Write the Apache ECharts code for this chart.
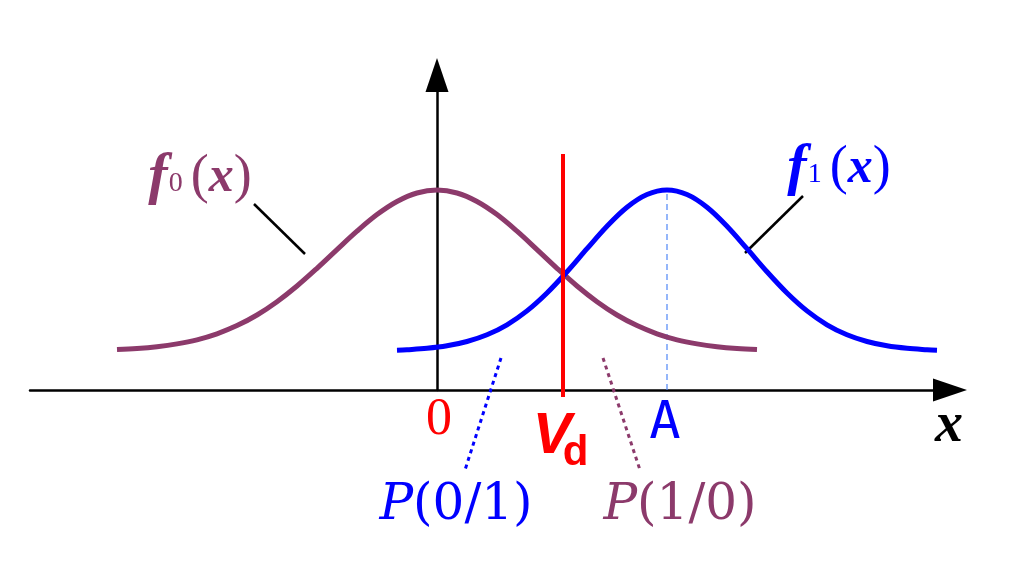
<!DOCTYPE html>
<html>
<head>
<meta charset="utf-8">
<script src="https://cdn.jsdelivr.net/npm/echarts@6/dist/echarts.min.js"></script>
<style>
html,body{margin:0;padding:0;background:#fff;}
#chart{width:1034px;height:570px;}
</style>
</head>
<body>
<div id="chart"></div>
<script>
// ---- data (x in units, y in density units) ----
const f0X = [-3.2,-3.0,-2.8,-2.6,-2.4,-2.2,-2.0,-1.8,-1.6,-1.4,-1.2,-1.0,-0.8,-0.6,-0.4,-0.2,0,0.2,0.4,0.6,0.8,1.0,1.2,1.4,1.6,1.8,2.0,2.2,2.4,2.6,2.8,3.0,3.2];
const f0Y = [0.404,0.415,0.433,0.461,0.502,0.562,0.644,0.750,0.883,1.040,1.217,1.404,1.588,1.754,1.885,1.970,2.000,1.970,1.885,1.754,1.588,1.404,1.217,1.040,0.883,0.750,0.644,0.562,0.502,0.461,0.433,0.415,0.404];
const f1X = [-0.4,-0.3,-0.1,0.1,0.3,0.5,0.7,0.9,1.1,1.3,1.5,1.7,1.9,2.1,2.3,2.5,2.7,2.9,3.1,3.3,3.5,3.7,3.9,4.1,4.3,4.5,4.7,4.9,5.0];
const f1Y = [0.398,0.403,0.417,0.442,0.485,0.552,0.652,0.791,0.970,1.182,1.413,1.638,1.828,1.955,2.000,1.955,1.828,1.638,1.413,1.182,0.970,0.791,0.652,0.552,0.485,0.442,0.417,0.403,0.398];
const threshold = 1.26;   // V_d
const meanA = 2.3;        // A
const peak = 2.0;
const tickLabels = ['0', 'A'];

const PURPLE = '#8C3A6B';
const BLUE = '#0000FF';
const RED = '#FF0000';

const zip = (xs, ys) => xs.map((x, i) => [x, ys[i]]);

function lineSeg(p, q, color, width, type, z) {
  return {
    type: 'line', data: [p, q], symbol: 'none', clip: false, silent: true, z: z || 2,
    lineStyle: { color: color, width: width, type: type || 'solid', opacity: 1 }
  };
}
function textAt(pt, formatter, rich, z) {
  return {
    type: 'scatter', data: [pt], symbolSize: 0, clip: false, silent: true, z: z || 5,
    itemStyle: { opacity: 1 },
    label: { show: true, position: 'inside', formatter: formatter, rich: rich, opacity: 1 }
  };
}

const serif = 'Liberation Serif';
function fLabel(color) {
  return {
    f: { fontFamily: serif, fontStyle: 'italic', fontWeight: 'bold', fontSize: 58, color: color },
    s: { fontFamily: serif, fontSize: 28, color: color, padding: [12, 8, 0, 1] },
    p: { fontFamily: serif, fontSize: 54, color: color },
    x: { fontFamily: serif, fontStyle: 'italic', fontWeight: 'bold', fontSize: 50, color: color }
  };
}
const option = {
  animation: false,
  backgroundColor: '#fff',
  grid: { left: 30, right: 84, top: 75, bottom: 180 },
  xAxis: {
    type: 'value', min: -4.07, max: 5.13,
    axisLine: { onZero: true, lineStyle: { color: '#000', width: 2.5 }, symbol: ['none', 'triangle'], symbolSize: [23, 34] },
    axisTick: { show: false }, axisLabel: { show: false }, splitLine: { show: false }
  },
  yAxis: {
    type: 'value', min: 0, max: 3.15,
    axisLine: { show: true, onZero: true, lineStyle: { color: '#000', width: 2.5 }, symbol: ['none', 'triangle'], symbolSize: [23, 34] },
    axisTick: { show: false }, axisLabel: { show: false }, splitLine: { show: false }
  },
  series: [
    lineSeg([meanA, 0], [meanA, peak], '#4F86F7', 1.2, [6, 4], 1),
    { type: 'line', data: zip(f0X, f0Y), smooth: 0.35, symbol: 'none', clip: false, z: 2,
      lineStyle: { color: PURPLE, width: 5 } },
    { type: 'line', data: zip(f1X, f1Y), smooth: 0.35, symbol: 'none', clip: false, z: 3,
      lineStyle: { color: BLUE, width: 5 } },
    lineSeg([threshold, -0.07], [threshold, 2.36], RED, 4, 'solid', 4),
    // leader lines
    lineSeg([-1.83, 1.86], [-1.32, 1.36], '#000', 2.5),
    lineSeg([3.66, 1.94], [3.08, 1.37], '#000', 2.5),
    // dotted pointers
    lineSeg([0.64, 0.32], [0.28, -0.80], BLUE, 3, [4, 4]),
    lineSeg([1.66, 0.32], [2.03, -0.80], PURPLE, 3, [4, 4]),
    // texts
    textAt([-2.37, 2.12], '{f|f}{s|0}{p|(}{x|x}{p|)}', fLabel(PURPLE)),
    textAt([4.02, 2.21], '{f|f}{s|1}{p|(}{x|x}{p|)}', fLabel(BLUE)),
    textAt([0.02, -0.30], '{a|' + tickLabels[0] + '}', { a: { fontFamily: serif, fontSize: 52, color: RED } }),
    textAt([meanA - 0.02, -0.34], '{a|' + tickLabels[1] + '}', { a: { fontFamily: 'DejaVu Sans Mono', fontSize: 52, color: BLUE } }),
    textAt([1.15, -0.47], '{a|V}', { a: { fontFamily: 'Liberation Sans', fontStyle: 'italic', fontWeight: 'bold', fontSize: 58, color: RED } }),
    textAt([1.385, -0.63], '{a|d}', { a: { fontFamily: 'Liberation Sans', fontWeight: 'bold', fontSize: 42, color: RED } }),
    textAt([0.19, -1.16], '{i|P}{r|(0/1)}', {
      i: { fontFamily: 'DejaVu Serif', fontStyle: 'italic', fontSize: 50, color: BLUE },
      r: { fontFamily: 'DejaVu Serif', fontSize: 50, color: BLUE }
    }),
    textAt([2.43, -1.16], '{i|P}{r|(1/0)}', {
      i: { fontFamily: 'DejaVu Serif', fontStyle: 'italic', fontSize: 50, color: PURPLE },
      r: { fontFamily: 'DejaVu Serif', fontSize: 50, color: PURPLE }
    }),
    textAt([5.12, -0.37], '{a|x}', { a: { fontFamily: serif, fontStyle: 'italic', fontWeight: 'bold', fontSize: 56, color: '#000' } })
  ]
};
const chart = echarts.init(document.getElementById('chart'), null, { renderer: 'canvas' });
chart.setOption(option);
</script>
</body>
</html>
